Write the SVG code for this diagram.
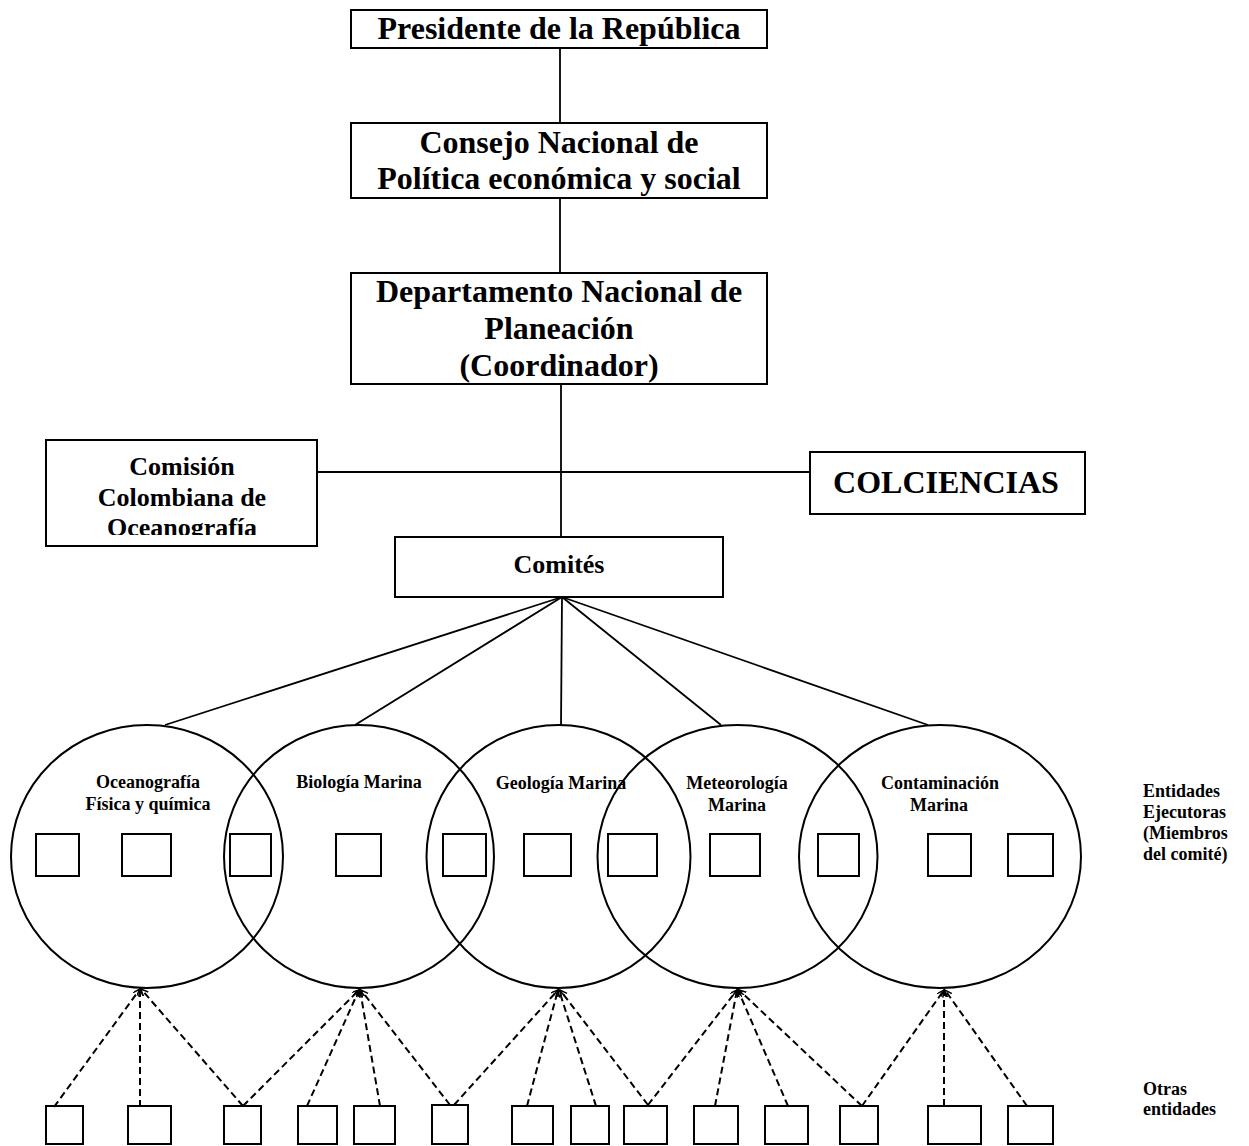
<svg xmlns="http://www.w3.org/2000/svg" width="1249" height="1146" viewBox="0 0 1249 1146">
<style>
  .box { fill: #fff; stroke: #000; stroke-width: 2; }
  .sq { fill: none; stroke: #000; stroke-width: 2; }
  .circ { fill: none; stroke: #000; stroke-width: 2; }
  .t { font-family: "Liberation Serif", "Times New Roman", serif; font-weight: bold; fill: #000; }
  .t32 { font-size: 32px; text-anchor: middle; }
  .t26 { font-size: 26px; text-anchor: middle; }
  .t18 { font-size: 18px; text-anchor: middle; }
  .lab { font-size: 18px; text-anchor: start; }
  .line { stroke: #000; stroke-width: 1.8; fill: none; }
  .dash { stroke: #000; stroke-width: 2; fill: none; stroke-dasharray: 7 4; marker-end: url(#arr); }
</style>
<defs>
  <marker id="arr" markerUnits="userSpaceOnUse" markerWidth="10" markerHeight="10" refX="7" refY="3.5" orient="auto">
    <path d="M0,0 L7,3.5 L0,7" fill="none" stroke="#000" stroke-width="1.5" stroke-dasharray="none"/>
  </marker>
  <clipPath id="clipCom">
    <rect x="46" y="440" width="271" height="95"/>
  </clipPath>
</defs>
<rect width="1249" height="1146" fill="#fff"/>

<g id="connectors">
  <line class="line" x1="560" y1="48" x2="560" y2="123"/>
  <line class="line" x1="560" y1="198" x2="560" y2="273"/>
  <line class="line" x1="561" y1="384" x2="561" y2="537"/>
  <line class="line" x1="317" y1="472" x2="810" y2="472"/>
  <line class="line" x1="562" y1="597" x2="165" y2="725"/>
  <line class="line" x1="562" y1="597" x2="355" y2="725"/>
  <line class="line" x1="562" y1="597" x2="561" y2="725"/>
  <line class="line" x1="562" y1="597" x2="721" y2="725"/>
  <line class="line" x1="562" y1="597" x2="928" y2="725"/>
  <!-- dashed -->
  <line class="dash" x1="54" y1="1107" x2="140" y2="989"/>
  <line class="dash" x1="140" y1="1107" x2="140" y2="989"/>
  <line class="dash" x1="243" y1="1106" x2="141" y2="989"/>
  <line class="dash" x1="243" y1="1106" x2="359" y2="990"/>
  <line class="dash" x1="307" y1="1106" x2="359" y2="990"/>
  <line class="dash" x1="380" y1="1106" x2="360" y2="990"/>
  <line class="dash" x1="450" y1="1105" x2="361" y2="990"/>
  <line class="dash" x1="454" y1="1105" x2="558" y2="990"/>
  <line class="dash" x1="527" y1="1106" x2="558" y2="990"/>
  <line class="dash" x1="596" y1="1106" x2="559" y2="990"/>
  <line class="dash" x1="648" y1="1105" x2="560" y2="990"/>
  <line class="dash" x1="648" y1="1105" x2="737" y2="990"/>
  <line class="dash" x1="715" y1="1106" x2="737" y2="990"/>
  <line class="dash" x1="788" y1="1106" x2="738" y2="990"/>
  <line class="dash" x1="862" y1="1106" x2="739" y2="990"/>
  <line class="dash" x1="862" y1="1106" x2="944" y2="990"/>
  <line class="dash" x1="944" y1="1106" x2="944" y2="990"/>
  <line class="dash" x1="1027" y1="1106" x2="945" y2="990"/>
</g>

<g id="presidente">
  <rect class="box" x="351" y="10" width="416" height="38"/>
  <text class="t t32" x="559" y="39">Presidente de la República</text>
</g>
<g id="consejo">
  <rect class="box" x="351" y="123" width="416" height="75"/>
  <text class="t t32" x="559" y="153">Consejo Nacional de</text>
  <text class="t t32" x="559" y="189">Política económica y social</text>
</g>
<g id="departamento">
  <rect class="box" x="351" y="273" width="416" height="111"/>
  <text class="t t32" x="559" y="302">Departamento Nacional de</text>
  <text class="t t32" x="559" y="339">Planeación</text>
  <text class="t t32" x="559" y="376">(Coordinador)</text>
</g>
<g id="comision">
  <rect class="box" x="46" y="440" width="271" height="106"/>
  <g clip-path="url(#clipCom)">
    <text class="t t26" x="182" y="475">Comisión</text>
    <text class="t t26" x="182" y="506">Colombiana de</text>
    <text class="t t26" x="182" y="536">Oceanografía</text>
  </g>
</g>
<g id="colciencias">
  <rect class="box" x="810" y="452" width="275" height="62"/>
  <text class="t t32" x="946" y="493">COLCIENCIAS</text>
</g>
<g id="comites">
  <rect class="box" x="395" y="537" width="328" height="60"/>
  <text class="t t26" x="559" y="573">Comités</text>
</g>

<g id="circ-oceanografia">
  <ellipse class="circ" cx="147" cy="856.5" rx="136" ry="131.5"/>
  <text class="t t18" x="148" y="788">Oceanografía</text>
  <text class="t t18" x="148" y="810">Física y química</text>
</g>
<g id="circ-biologia">
  <ellipse class="circ" cx="359" cy="856.5" rx="135" ry="131.5"/>
  <text class="t t18" x="359" y="788">Biología Marina</text>
</g>
<g id="circ-geologia">
  <ellipse class="circ" cx="558.5" cy="856.5" rx="132" ry="131.5"/>
  <text class="t t18" x="561" y="789">Geología Marina</text>
</g>
<g id="circ-meteorologia">
  <ellipse class="circ" cx="737.5" cy="856.5" rx="140" ry="131.5"/>
  <text class="t t18" x="737" y="789">Meteorología</text>
  <text class="t t18" x="737" y="811">Marina</text>
</g>
<g id="circ-contaminacion">
  <ellipse class="circ" cx="940" cy="856.5" rx="141" ry="131.5"/>
  <text class="t t18" x="940" y="789">Contaminación</text>
  <text class="t t18" x="939" y="811">Marina</text>
</g>

<g id="miembros">
  <rect class="sq" x="36" y="834" width="43" height="42"/>
  <rect class="sq" x="122" y="834" width="49" height="42"/>
  <rect class="sq" x="230" y="834" width="41" height="42"/>
  <rect class="sq" x="336" y="834" width="45" height="42"/>
  <rect class="sq" x="443" y="834" width="43" height="42"/>
  <rect class="sq" x="524" y="834" width="47" height="42"/>
  <rect class="sq" x="608" y="834" width="49" height="42"/>
  <rect class="sq" x="710" y="834" width="50" height="42"/>
  <rect class="sq" x="818" y="834" width="41" height="42"/>
  <rect class="sq" x="928" y="834" width="43" height="42"/>
  <rect class="sq" x="1008" y="834" width="45" height="42"/>
</g>

<g id="otras">
  <rect class="sq" x="46" y="1106" width="37" height="38"/>
  <rect class="sq" x="128" y="1106" width="43" height="38"/>
  <rect class="sq" x="224" y="1106" width="37" height="38"/>
  <rect class="sq" x="298" y="1106" width="39" height="38"/>
  <rect class="sq" x="354" y="1106" width="41" height="38"/>
  <rect class="sq" x="432" y="1105" width="36" height="39"/>
  <rect class="sq" x="512" y="1106" width="41" height="38"/>
  <rect class="sq" x="571" y="1106" width="38" height="38"/>
  <rect class="sq" x="624" y="1106" width="43" height="38"/>
  <rect class="sq" x="694" y="1106" width="44" height="38"/>
  <rect class="sq" x="765" y="1106" width="43" height="38"/>
  <rect class="sq" x="840" y="1106" width="38" height="38"/>
  <rect class="sq" x="928" y="1106" width="53" height="38"/>
  <rect class="sq" x="1008" y="1106" width="45" height="38"/>
</g>

<g id="label-ejecutoras">
  <text class="t lab" x="1143" y="797">Entidades</text>
  <text class="t lab" x="1143" y="818">Ejecutoras</text>
  <text class="t lab" x="1143" y="839">(Miembros</text>
  <text class="t lab" x="1143" y="860">del comité)</text>
</g>
<g id="label-otras">
  <text class="t lab" x="1143" y="1095">Otras</text>
  <text class="t lab" x="1143" y="1115">entidades</text>
</g>
</svg>
